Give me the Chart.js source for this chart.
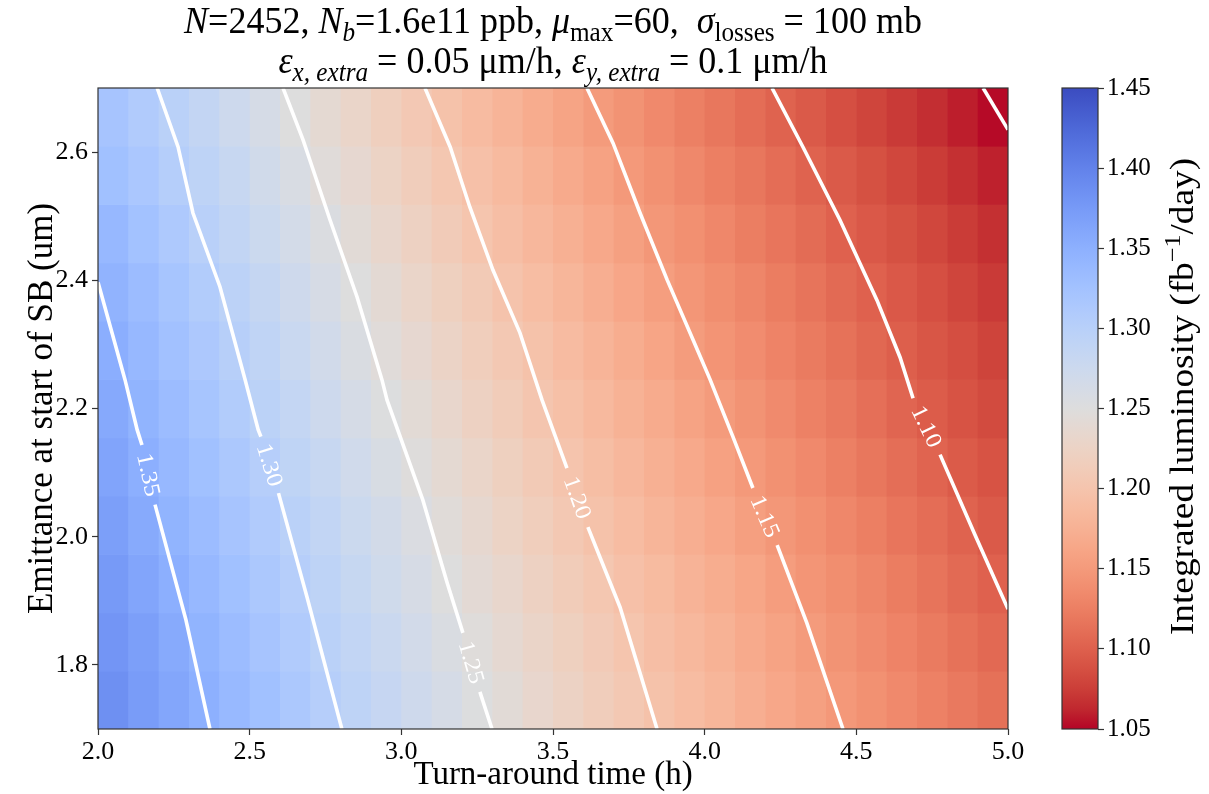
<!DOCTYPE html>
<html>
<head>
<meta charset="utf-8">
<script src="https://cdn.jsdelivr.net/npm/chart.js@4.4.1/dist/chart.umd.min.js"></script>
<style>
  html, body { margin: 0; padding: 0; background: #ffffff; width: 1209px; height: 794px; overflow: hidden; }
  #wrap { position: relative; width: 1209px; height: 794px; }
  #main { position: absolute; left: 0; top: 0; }
  #cbar { position: absolute; left: 1008px; top: 0; }
</style>
</head>
<body>
<div id="wrap">
  <canvas id="main" width="1209" height="794"></canvas>
  <canvas id="cbar" width="201" height="794"></canvas>
</div>
<script>
// ---------------- DATA ----------------
// Cell centres of the heat map
const turnaroundTimes = [2.05, 2.15, 2.25, 2.35, 2.45, 2.55, 2.65, 2.75, 2.85, 2.95,
                         3.05, 3.15, 3.25, 3.35, 3.45, 3.55, 3.65, 3.75, 3.85, 3.95,
                         4.05, 4.15, 4.25, 4.35, 4.45, 4.55, 4.65, 4.75, 4.85, 4.95];
const emittances = [1.745, 1.836, 1.927, 2.018, 2.109, 2.200, 2.291, 2.382, 2.473, 2.564, 2.655];

// Integrated luminosity (fb^-1/day), one array per emittance row (bottom to top)
const lumEps1745 = [1.385,1.373,1.361,1.350,1.338,1.327,1.315,1.303,1.293,1.283,1.272,1.262,1.252,1.243,1.233,1.224,1.215,1.206,1.197,1.189,1.181,1.172,1.164,1.156,1.148,1.141,1.134,1.127,1.120,1.113];
const lumEps1836 = [1.380,1.369,1.357,1.345,1.333,1.321,1.309,1.298,1.287,1.277,1.267,1.256,1.247,1.237,1.228,1.219,1.210,1.201,1.192,1.184,1.176,1.167,1.159,1.151,1.143,1.136,1.129,1.122,1.114,1.107];
const lumEps1927 = [1.375,1.363,1.351,1.339,1.327,1.315,1.303,1.292,1.282,1.271,1.261,1.250,1.241,1.232,1.222,1.213,1.204,1.195,1.187,1.178,1.170,1.162,1.153,1.145,1.138,1.131,1.123,1.116,1.108,1.101];
const lumEps2018 = [1.369,1.357,1.345,1.333,1.321,1.309,1.298,1.287,1.276,1.266,1.255,1.245,1.235,1.225,1.216,1.206,1.197,1.189,1.180,1.172,1.164,1.155,1.147,1.140,1.132,1.125,1.117,1.110,1.102,1.095];
const lumEps2109 = [1.364,1.351,1.339,1.327,1.315,1.303,1.291,1.281,1.270,1.259,1.248,1.239,1.229,1.219,1.209,1.200,1.191,1.183,1.174,1.166,1.157,1.149,1.141,1.134,1.126,1.118,1.111,1.103,1.096,1.090];
const lumEps2200 = [1.358,1.345,1.333,1.320,1.307,1.296,1.285,1.274,1.263,1.251,1.242,1.232,1.222,1.212,1.202,1.194,1.185,1.176,1.168,1.159,1.151,1.143,1.135,1.127,1.120,1.112,1.104,1.097,1.090,1.084];
const lumEps2291 = [1.352,1.339,1.326,1.314,1.301,1.290,1.279,1.268,1.256,1.246,1.236,1.226,1.216,1.206,1.197,1.188,1.179,1.170,1.161,1.152,1.144,1.137,1.129,1.122,1.114,1.106,1.099,1.092,1.086,1.079];
const lumEps2382 = [1.346,1.333,1.320,1.307,1.295,1.284,1.272,1.261,1.250,1.240,1.229,1.219,1.209,1.199,1.190,1.181,1.172,1.163,1.154,1.146,1.138,1.131,1.123,1.116,1.108,1.101,1.094,1.087,1.080,1.073];
const lumEps2473 = [1.339,1.325,1.312,1.299,1.287,1.276,1.265,1.254,1.243,1.232,1.222,1.211,1.201,1.192,1.183,1.174,1.165,1.156,1.147,1.140,1.132,1.124,1.117,1.109,1.101,1.094,1.088,1.081,1.074,1.067];
const lumEps2564 = [1.327,1.316,1.304,1.292,1.281,1.269,1.258,1.246,1.236,1.225,1.215,1.204,1.195,1.186,1.176,1.167,1.158,1.149,1.141,1.133,1.125,1.118,1.110,1.102,1.095,1.088,1.081,1.074,1.067,1.060];
const lumEps2655 = [1.321,1.309,1.298,1.286,1.274,1.262,1.250,1.239,1.229,1.218,1.207,1.197,1.188,1.179,1.169,1.160,1.151,1.143,1.134,1.126,1.118,1.110,1.102,1.095,1.087,1.080,1.073,1.066,1.059,1.052];

// Contour levels and their traced paths ([turn-around time, emittance]); a path split in two leaves room for its label
const contourLevels = [1.05, 1.10, 1.15, 1.20, 1.25, 1.30, 1.35];
const contour105 = [[[4.918,2.700],[5.000,2.635]]];
const contour110 = [[[4.222,2.700],[4.324,2.608],[4.446,2.494],[4.568,2.369],[4.644,2.280],[4.687,2.216]],
                    [[4.776,2.128],[4.891,2.003],[5.000,1.887]]];
const contour115 = [[[3.612,2.700],[3.698,2.614],[3.787,2.505],[3.876,2.401],[3.962,2.307],[4.018,2.245],[4.093,2.156],[4.159,2.076]],
                    [[4.239,1.987],[4.337,1.865],[4.456,1.700]]];
const contour120 = [[[3.078,2.700],[3.161,2.608],[3.226,2.514],[3.302,2.416],[3.391,2.318],[3.464,2.213],[3.546,2.107]],
                    [[3.615,2.015],[3.721,1.890],[3.843,1.700]]];
const contour125 = [[[2.610,2.700],[2.676,2.619],[2.765,2.494],[2.854,2.374],[2.936,2.245],[2.953,2.213],[3.071,2.057],[3.151,1.928],[3.203,1.850]],
                    [[3.259,1.758],[3.299,1.700]]];
const contour130 = [[[2.195,2.700],[2.264,2.608],[2.313,2.505],[2.402,2.390],[2.485,2.245],[2.528,2.167],[2.537,2.156]],
                    [[2.595,2.068],[2.689,1.906],[2.804,1.700]]];
const contour135 = [[[2.000,2.397],[2.089,2.245],[2.129,2.167],[2.145,2.143]],
                    [[2.188,2.050],[2.290,1.870],[2.369,1.700]]];

// Tick labels
const xTicks = [2.0, 2.5, 3.0, 3.5, 4.0, 4.5, 5.0];
const yTicks = [1.8, 2.0, 2.2, 2.4, 2.6];
const colorbarTicks = [1.05, 1.10, 1.15, 1.20, 1.25, 1.30, 1.35, 1.40, 1.45];

// ---------------- STYLE ----------------
const FONT = '"Liberation Serif", "Times New Roman", serif';
const coolwarm = [
  [59,76,192],[68,90,204],[77,104,215],[87,117,225],[98,130,234],[108,142,241],[119,154,247],[130,165,251],
  [141,176,254],[152,185,255],[163,194,255],[174,201,253],[184,208,249],[194,213,244],[204,217,238],[213,219,230],
  [221,221,221],[229,216,209],[236,211,197],[241,204,185],[245,196,173],[247,187,160],[247,177,148],[247,166,135],
  [244,154,123],[241,141,111],[236,127,99],[229,112,88],[222,96,77],[213,80,66],[203,62,56],[192,40,47],[180,4,38]
];
const cbMin = colorbarTicks[0], cbMax = colorbarTicks[colorbarTicks.length - 1];

function cmapColor(v) {
  // reversed coolwarm: high values blue, low values red
  let t = 1 - (v - cbMin) / (cbMax - cbMin);
  t = Math.max(0, Math.min(1, t));
  const f = t * (coolwarm.length - 1);
  const i = Math.min(Math.floor(f), coolwarm.length - 2);
  const u = f - i;
  const a = coolwarm[i], b = coolwarm[i + 1];
  return 'rgb(' + Math.round(a[0] + (b[0] - a[0]) * u) + ',' + Math.round(a[1] + (b[1] - a[1]) * u) + ',' + Math.round(a[2] + (b[2] - a[2]) * u) + ')';
}

function edgesOf(c) {
  const e = [c[0] - (c[1] - c[0]) / 2];
  for (let i = 1; i < c.length; i++) e.push((c[i - 1] + c[i]) / 2);
  e.push(c[c.length - 1] + (c[c.length - 1] - c[c.length - 2]) / 2);
  return e;
}

const lumRows = [lumEps1745, lumEps1836, lumEps1927, lumEps2018, lumEps2109, lumEps2200,
                 lumEps2291, lumEps2382, lumEps2473, lumEps2564, lumEps2655];
const contourPaths = [contour105, contour110, contour115, contour120, contour125, contour130, contour135];

// rich text helper (for math-like titles)
function drawRich(ctx, segs, cx, baseline, size, stretch) {
  const widths = [];
  let total = 0;
  segs.forEach(s => {
    const fs = (s.sub || s.sup) ? size * 0.7 : size;
    ctx.font = (s.it ? 'italic ' : '') + fs + 'px ' + FONT;
    const w = ctx.measureText(s.t).width;
    widths.push(w); total += w;
  });
  ctx.save();
  ctx.translate(cx - total / 2, baseline);
  ctx.scale(1, stretch);
  ctx.textAlign = 'left';
  ctx.textBaseline = 'alphabetic';
  ctx.fillStyle = '#000';
  let x = 0;
  segs.forEach((s, i) => {
    const fs = (s.sub || s.sup) ? size * 0.7 : size;
    ctx.font = (s.it ? 'italic ' : '') + fs + 'px ' + FONT;
    const dy = s.sub ? size * 0.2 : (s.sup ? -size * 0.38 : 0);
    ctx.fillText(s.t, x, dy);
    x += widths[i];
  });
  ctx.restore();
  return total;
}

const titleLine1 = [
  {t: 'N', it: true}, {t: '=2452, '}, {t: 'N', it: true}, {t: 'b', it: true, sub: true},
  {t: '=1.6e11 ppb, '}, {t: 'μ', it: true}, {t: 'max', sub: true}, {t: '=60,  '},
  {t: 'σ', it: true}, {t: 'losses', sub: true}, {t: ' = 100 mb'}
];
const titleLine2 = [
  {t: 'ε', it: true}, {t: 'x, extra', it: true, sub: true}, {t: ' = 0.05 μm/h, '},
  {t: 'ε', it: true}, {t: 'y, extra', it: true, sub: true}, {t: ' = 0.1 μm/h'}
];

// ---------------- PLUGINS ----------------
const heatmapPlugin = {
  id: 'heatmap',
  beforeDatasetsDraw(chart) {
    const {ctx, chartArea: a, scales: {x, y}} = chart;
    const xe = edgesOf(turnaroundTimes), ye = edgesOf(emittances);
    ctx.save();
    ctx.beginPath();
    ctx.rect(a.left, a.top, a.right - a.left, a.bottom - a.top);
    ctx.clip();
    lumRows.forEach((row, r) => {
      const yb = y.getPixelForValue(ye[r]), yt = y.getPixelForValue(ye[r + 1]);
      row.forEach((v, c) => {
        const xl = x.getPixelForValue(xe[c]), xr = x.getPixelForValue(xe[c + 1]);
        ctx.fillStyle = cmapColor(v);
        ctx.fillRect(xl, yt, xr - xl + 0.6, yb - yt + 0.6);
      });
    });
    ctx.restore();
  },
  afterDatasetsDraw(chart) {
    const {ctx, chartArea: a, scales: {x, y}} = chart;
    // contour labels placed in the gaps of the split paths
    ctx.save();
    ctx.fillStyle = '#ffffff';
    ctx.font = '23px ' + FONT;
    ctx.textAlign = 'center';
    ctx.textBaseline = 'middle';
    contourPaths.forEach((segs, k) => {
      if (segs.length < 2) return;
      const pa = segs[0][segs[0].length - 1], pb = segs[1][0];
      const x0 = x.getPixelForValue(pa[0]), y0 = y.getPixelForValue(pa[1]);
      const x1 = x.getPixelForValue(pb[0]), y1 = y.getPixelForValue(pb[1]);
      const ang = Math.atan2(y1 - y0, x1 - x0);
      ctx.save();
      ctx.translate((x0 + x1) / 2, (y0 + y1) / 2);
      ctx.rotate(ang);
      ctx.scale(1.08, 1);
      ctx.fillText(contourLevels[k].toFixed(2), 0, 1);
      ctx.restore();
    });
    ctx.restore();
    // frame
    ctx.save();
    ctx.strokeStyle = '#333333';
    ctx.lineWidth = 1.2;
    ctx.strokeRect(a.left, a.top, a.right - a.left, a.bottom - a.top);
    ctx.restore();
  },
  afterDraw(chart) {
    const {ctx, chartArea: a} = chart;
    const cx = (a.left + a.right) / 2;
    drawRich(ctx, titleLine1, cx, 33, 36, 1.05);
    drawRich(ctx, titleLine2, cx, 73, 36, 1.05);
  }
};

const colorbarPlugin = {
  id: 'colorbar',
  afterDraw(chart) {
    const {ctx, chartArea: a, scales: {y}} = chart;
    const g = ctx.createLinearGradient(0, y.getPixelForValue(cbMax), 0, y.getPixelForValue(cbMin));
    coolwarm.forEach((c, i) => g.addColorStop(i / (coolwarm.length - 1), 'rgb(' + c.join(',') + ')'));
    ctx.save();
    ctx.fillStyle = g;
    ctx.fillRect(a.left, a.top, a.right - a.left, a.bottom - a.top);
    ctx.strokeStyle = '#333333';
    ctx.lineWidth = 1.2;
    ctx.strokeRect(a.left, a.top, a.right - a.left, a.bottom - a.top);
    ctx.restore();
    // colour-bar label, reading upward
    ctx.save();
    const size = 33;
    const segs = [{t: 'Integrated luminosity (fb'}, {t: '−1', sup: true}, {t: '/day)'}];
    ctx.translate(173, (a.top + a.bottom) / 2 - 12);
    ctx.rotate(-Math.PI / 2);
    ctx.scale(1.13, 1);
    drawRich(ctx, segs, 0, 12, size, 1);
    ctx.restore();
  }
};

// ---------------- CHARTS ----------------
const datasets = [];
contourPaths.forEach(segs => {
  segs.forEach(seg => {
    datasets.push({
      data: seg.map(p => ({x: p[0], y: p[1]})),
      showLine: true,
      borderColor: '#ffffff',
      borderWidth: 3.6,
      pointRadius: 0,
      tension: 0,
      fill: false,
      borderCapStyle: 'butt'
    });
  });
});

new Chart(document.getElementById('main'), {
  type: 'scatter',
  data: {datasets},
  options: {
    responsive: false,
    animation: false,
    events: [],
    layout: {padding: {left: 0, top: 88, right: 201, bottom: 0}},
    plugins: {legend: {display: false}, tooltip: {enabled: false}, title: {display: false}},
    scales: {
      x: {
        type: 'linear', min: 2, max: 5,
        afterBuildTicks: s => { s.ticks = xTicks.map(v => ({value: v})); },
        afterFit: s => { s.height = 65; },
        ticks: {font: {family: FONT, size: 26}, color: '#000', padding: 2, maxRotation: 0, autoSkip: false,
                callback: v => Number(v).toFixed(1)},
        grid: {display: true, drawOnChartArea: false, drawTicks: true, tickLength: 6, tickColor: '#333', tickWidth: 1.2},
        border: {display: false},
        title: {display: true, text: 'Turn-around time (h)', color: '#000',
                font: {family: FONT, size: 33, lineHeight: 1}, padding: {top: 0, bottom: 2}}
      },
      y: {
        type: 'linear', min: 1.7, max: 2.7,
        afterBuildTicks: s => { s.ticks = yTicks.map(v => ({value: v})); },
        afterFit: s => { s.width = 98; },
        ticks: {font: {family: FONT, size: 26}, color: '#000', padding: 4, autoSkip: false,
                callback: v => Number(v).toFixed(1)},
        grid: {display: true, drawOnChartArea: false, drawTicks: true, tickLength: 6, tickColor: '#333', tickWidth: 1.2},
        border: {display: false},
        title: {display: true, text: 'Emittance at start of SB (um)', color: '#000',
                font: {family: FONT, size: 35, lineHeight: 1}, padding: {top: 25, bottom: 0}}
      }
    }
  },
  plugins: [heatmapPlugin]
});

new Chart(document.getElementById('cbar'), {
  type: 'scatter',
  data: {datasets: []},
  options: {
    responsive: false,
    animation: false,
    events: [],
    layout: {padding: {left: 54, top: 88, right: 0, bottom: 65}},
    plugins: {legend: {display: false}, tooltip: {enabled: false}},
    scales: {
      x: {display: false, min: 0, max: 1},
      y: {
        position: 'right', min: cbMin, max: cbMax,
        afterBuildTicks: s => { s.ticks = colorbarTicks.map(v => ({value: v})); },
        afterFit: s => { s.width = 111; },
        ticks: {font: {family: FONT, size: 25}, color: '#000', padding: 3, autoSkip: false,
                callback: v => Number(v).toFixed(2)},
        grid: {display: true, drawOnChartArea: false, drawTicks: true, tickLength: 6, tickColor: '#333', tickWidth: 1.2},
        border: {display: false}
      }
    }
  },
  plugins: [colorbarPlugin]
});
</script>
</body>
</html>
